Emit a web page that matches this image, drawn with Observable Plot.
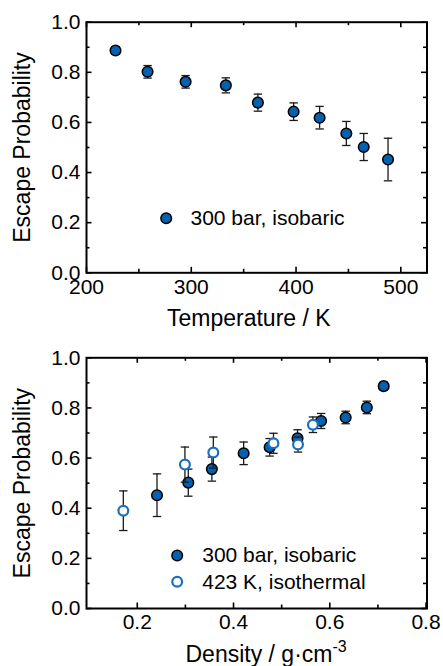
<!DOCTYPE html>
<html><head><meta charset="utf-8">
<script src="https://cdn.jsdelivr.net/npm/d3@7"></script>
<script src="https://cdn.jsdelivr.net/npm/@observablehq/plot@0.6"></script>
<style>body{margin:0;background:#fff}#chart svg{display:block}</style>
</head><body><div id="chart"></div>
<script>
// ---- data ----
const seriesNames = ["300 bar, isobaric", "423 K, isothermal"];
const temperatureIsobaric = [227.7, 258.3, 294.6, 333, 363.6, 397.7, 422.5, 448, 464.6, 487.8];
const densityIsobaric     = [0.712, 0.677, 0.633, 0.582, 0.533, 0.475, 0.421, 0.355, 0.306, 0.241];
const escapeIsobaric      = [0.887, 0.802, 0.762, 0.748, 0.679, 0.643, 0.619, 0.556, 0.502, 0.452];
const errIsobaric         = [0.015, 0.025, 0.025, 0.03, 0.034, 0.035, 0.045, 0.048, 0.054, 0.085];
const densityIsothermal   = [0.171, 0.299, 0.358, 0.483, 0.534, 0.565];
const escapeIsothermal    = [0.39, 0.574, 0.622, 0.659, 0.654, 0.733];
const errIsothermal       = [0.079, 0.07, 0.062, 0.04, 0.03, 0.031];
const tempMajor = [200, 300, 400, 500];
const tempMinor = [250, 350, 450];
const densMajor = [0.2, 0.4, 0.6, 0.8];
const densMinor = [0.3, 0.5, 0.7];
const probMajor = [0, 0.2, 0.4, 0.6, 0.8, 1.0];
const probMinor = [0.1, 0.3, 0.5, 0.7, 0.9];
const yLabel = "Escape Probability";
const tempLabel = "Temperature / K";
const densLabel = "Density / g·cm-3";

const isobaric = temperatureIsobaric.map((t, i) => ({x: t, rho: densityIsobaric[i], p: escapeIsobaric[i], e: errIsobaric[i]}));
const isothermal = densityIsothermal.map((r, i) => ({rho: r, p: escapeIsothermal[i], e: errIsothermal[i]}));

const FONT = "'Liberation Sans', Arial, Helvetica, sans-serif";
const FILL = "#0461b0";
const OPEN = "#1b6fbe";
const BAR = "#1a1a1a";
const capSymbol = {draw(ctx, size) { const w = Math.sqrt(size / Math.PI); ctx.moveTo(-w, 0); ctx.lineTo(w, 0); }};

function errorMarks(data, xk) {
  return [
    Plot.ruleX(data, {x: xk, y1: d => d.p - d.e, y2: d => d.p + d.e, stroke: BAR, strokeWidth: 1.3}),
    Plot.dot(data, {x: xk, y: d => d.p + d.e, symbol: capSymbol, r: 4.2, stroke: BAR, strokeWidth: 1.3, fill: "none"}),
    Plot.dot(data, {x: xk, y: d => d.p - d.e, symbol: capSymbol, r: 4.2, stroke: BAR, strokeWidth: 1.3, fill: "none"})
  ];
}

function panel({height, mt, mb, xDomain, xMajor, xMinor, xFormat, xLabel, xLabelDx, marks}) {
  const W = 443, ml = 86, mr = 16.5;
  const iw = W - ml - mr, ih = height - mt - mb;
  const tk = {stroke: "black", strokeWidth: 1.6};
  return Plot.plot({
    width: W, height, marginLeft: ml, marginRight: mr, marginTop: mt, marginBottom: mb,
    style: {fontFamily: FONT, fontSize: "21px", color: "black", background: "white"},
    x: {domain: xDomain},
    y: {domain: [0, 1]},
    marks: [
      ...marks,
      Plot.tickX(xMajor, {x: d => d, insetTop: ih - 5.5, ...tk}),
      Plot.tickX(xMajor, {x: d => d, insetBottom: ih - 5.5, ...tk}),
      Plot.tickX(xMinor, {x: d => d, insetTop: ih - 3.5, ...tk}),
      Plot.tickX(xMinor, {x: d => d, insetBottom: ih - 3.5, ...tk}),
      Plot.tickY(probMajor, {y: d => d, insetRight: iw - 5.5, ...tk}),
      Plot.tickY(probMajor, {y: d => d, insetLeft: iw - 5.5, ...tk}),
      Plot.tickY(probMinor, {y: d => d, insetRight: iw - 3.5, ...tk}),
      Plot.tickY(probMinor, {y: d => d, insetLeft: iw - 3.5, ...tk}),
      Plot.frame({stroke: "black", strokeWidth: 2}),
      Plot.axisX({ticks: xMajor, tickSize: 0, tickPadding: 6, tickFormat: xFormat, label: null, fontSize: 21}),
      Plot.axisY({ticks: probMajor, tickSize: 0, tickPadding: 6, tickFormat: d3.format(".1f"), label: null, fontSize: 21}),
      Plot.text([yLabel], {text: d => d, frameAnchor: "left", rotate: -90, dx: -73, lineAnchor: "top", textAnchor: "middle", fontSize: 23, fill: "black"}),
      Plot.text([xLabel], {text: d => d, frameAnchor: "bottom-left", dx: xLabelDx, dy: 53, lineAnchor: "bottom", textAnchor: "start", fontSize: 23, fill: "black"})
    ]
  });
}

function legendMarks(items, dxMarker, dxText) {
  const out = [];
  for (const it of items) {
    out.push(Plot.dot([it.name], {frameAnchor: "bottom-left", dx: dxMarker, dy: it.dy, r: it.r, fill: it.fill, stroke: it.stroke, strokeWidth: it.sw}));
    out.push(Plot.text([it.name], {text: d => d, frameAnchor: "bottom-left", dx: dxText, dy: it.dy, textAnchor: "start", lineAnchor: "middle", fontSize: 21, fill: "black"}));
  }
  return out;
}

const topPanel = panel({
  height: 333, mt: 21.7, mb: 60.7,
  xDomain: [200, 525], xMajor: tempMajor, xMinor: tempMinor, xFormat: d3.format("d"),
  xLabel: tempLabel, xLabelDx: 80.5,
  marks: [
    ...errorMarks(isobaric, "x"),
    Plot.dot(isobaric, {x: "x", y: "p", r: 5.3, fill: FILL, stroke: "black", strokeWidth: 1.5}),
    ...legendMarks([{name: seriesNames[0], dy: -54.6, r: 5.3, fill: FILL, stroke: "black", sw: 1.5}], 79.7, 104)
  ]
});

const bottomPanel = panel({
  height: 333, mt: 24.3, mb: 58,
  xDomain: [0.0945, 0.802], xMajor: densMajor, xMinor: densMinor, xFormat: d3.format(".1f"),
  xLabel: densLabel, xLabelDx: 99,
  marks: [
    ...errorMarks(isobaric, "rho"),
    Plot.dot(isobaric, {x: "rho", y: "p", r: 5.3, fill: FILL, stroke: "black", strokeWidth: 1.5}),
    ...errorMarks(isothermal, "rho"),
    Plot.dot(isothermal, {x: "rho", y: "p", r: 4.9, fill: "white", stroke: OPEN, strokeWidth: 2.2}),
    ...legendMarks([
      {name: seriesNames[0], dy: -53, r: 5.3, fill: FILL, stroke: "black", sw: 1.5},
      {name: seriesNames[1], dy: -26.7, r: 4.9, fill: "white", stroke: OPEN, sw: 2.2}
    ], 90.7, 115.7)
  ]
});

// superscript for the density unit
d3.select(bottomPanel).selectAll("text").filter(function() { return this.textContent === densLabel; }).each(function() {
  const t = d3.select(this);
  t.text("Density / g·cm");
  t.append("tspan").attr("dy", -10).attr("font-size", 16).text("-3");
});

document.getElementById("chart").append(topPanel, bottomPanel);
</script>
</body></html>
